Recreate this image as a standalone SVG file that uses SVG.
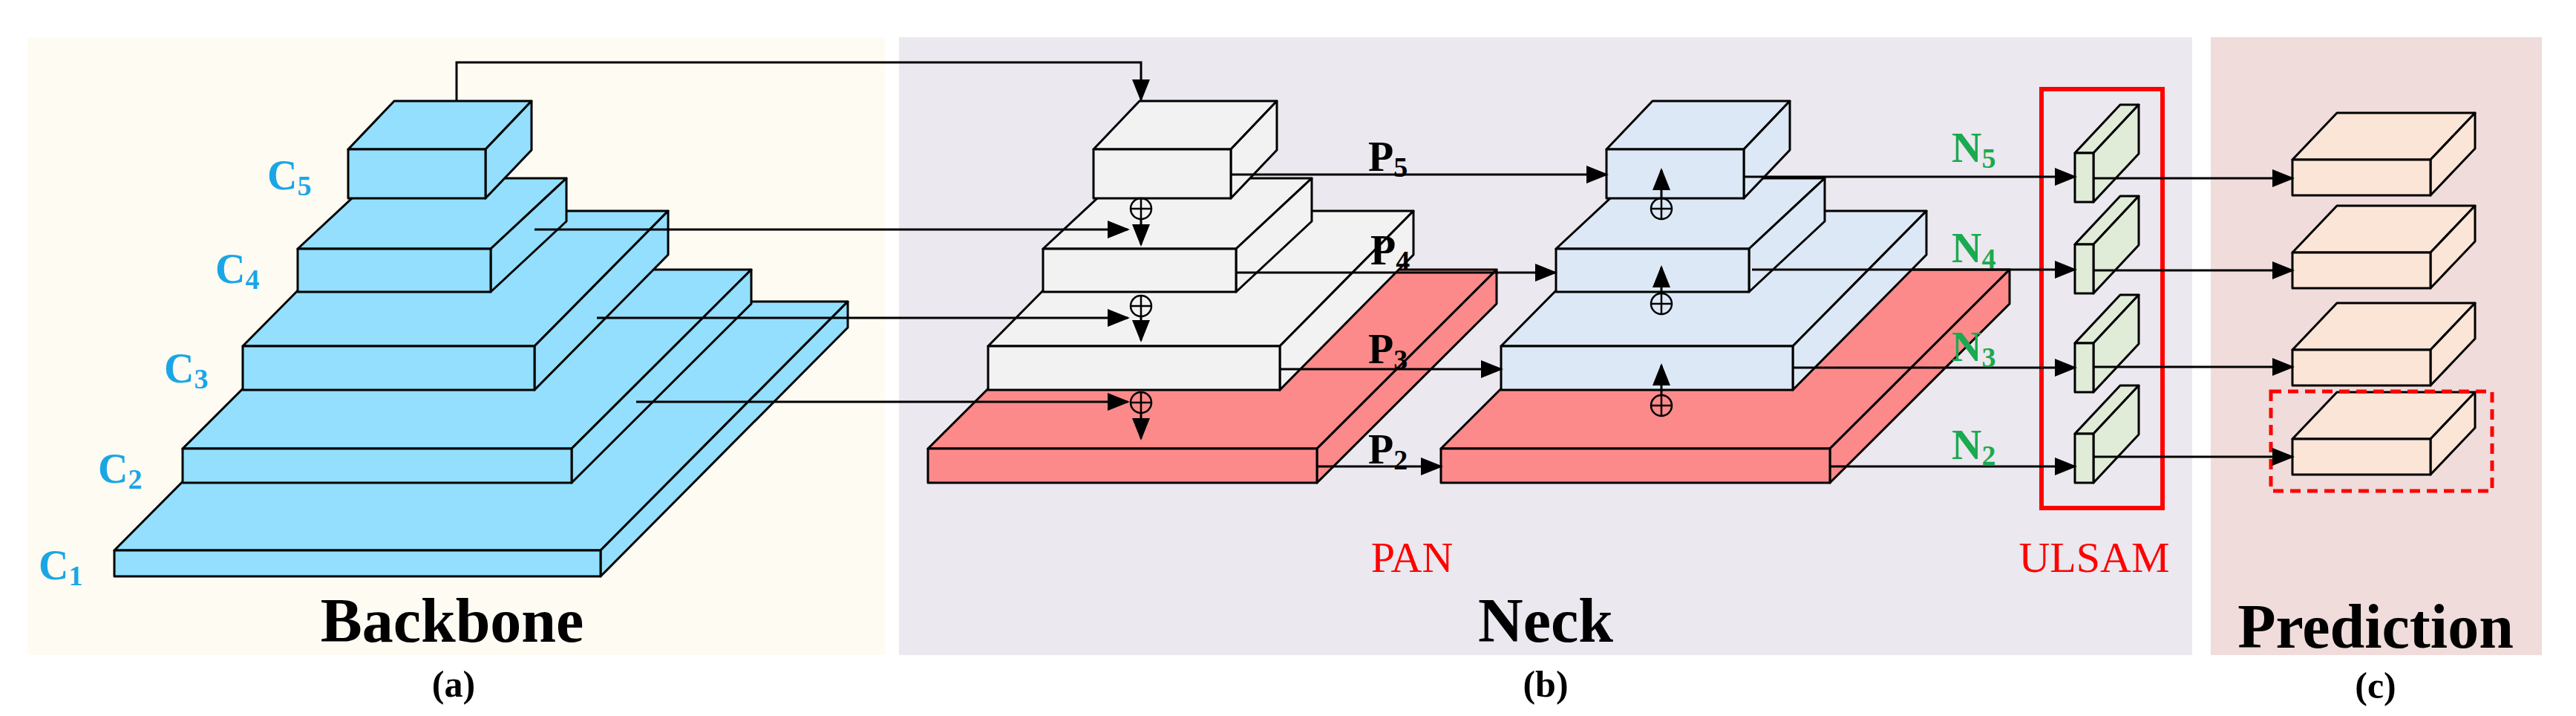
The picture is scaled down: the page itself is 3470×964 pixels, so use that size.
<svg xmlns="http://www.w3.org/2000/svg" width="3470" height="964" viewBox="0 0 3470 964">
<style>
.e{stroke:#000;stroke-width:3;stroke-linejoin:round}
.bb{fill:#93dffd}.wh{fill:#f2f2f2}.rd{fill:#fd8a8a}.bl{fill:#dce8f5}.gr{fill:#e0ecd8}.pr{fill:#fbe5d6}
.ln{stroke:#000;stroke-width:3;fill:none}
.arr{marker-end:url(#ah)}
.cl{font-family:"Liberation Serif",serif;font-weight:bold;font-size:56px;fill:#1aa6e6}
.pl{font-family:"Liberation Serif",serif;font-weight:bold;font-size:56px;fill:#000}
.nl{font-family:"Liberation Serif",serif;font-weight:bold;font-size:56px;fill:#1aaa50}
.t{font-family:"Liberation Serif",serif;font-weight:bold;font-size:84px;fill:#000;text-anchor:middle}
.s{font-family:"Liberation Serif",serif;font-weight:bold;font-size:50px;fill:#000;text-anchor:middle}
.r{font-family:"Liberation Serif",serif;font-size:58px;fill:#f00;text-anchor:middle}
.pc{fill:none;stroke:#000;stroke-width:2.5}
</style>
<defs>
<marker id="ah" markerWidth="10" markerHeight="8" refX="9" refY="4" orient="auto" markerUnits="strokeWidth"><path d="M0,0 L10,4 L0,8 Z" fill="#000"/></marker>
<g id="plus"><circle r="14" class="pc"/><path d="M-14,0H14M0,-14V14" class="pc"/></g>
</defs>
<g id="backgrounds">
<rect x="37" y="50" width="1155" height="832" fill="#fefbf3"/>
<rect x="1211" y="50" width="1742" height="832" fill="#ebe8ef"/>
<rect x="2978" y="50" width="446" height="832" fill="#efdcdb"/>
</g>
<g id="backbone">
<g id="C1" class="bb e"><polygon points="154,741 809,741 1142,406 487,406"/><polygon points="809,741 1142,406 1142,441 809,776"/><rect x="154" y="741" width="655" height="35"/></g>
<g id="C2" class="bb e"><polygon points="246,604 770,604 1012,363 488,363"/><polygon points="770,604 1012,363 1012,409 770,650"/><rect x="246" y="604" width="524" height="46"/></g>
<g id="C3" class="bb e"><polygon points="327,466 720,466 900,284 507,284"/><polygon points="720,466 900,284 900,343 720,525"/><rect x="327" y="466" width="393" height="59"/></g>
<g id="C4" class="bb e"><polygon points="401,335 661,335 763,240 503,240"/><polygon points="661,335 763,240 763,298 661,393"/><rect x="401" y="335" width="260" height="58"/></g>
<g id="C5" class="bb e"><polygon points="469,201 654,201 716,136 531,136"/><polygon points="654,201 716,136 716,202 654,267"/><rect x="469" y="201" width="185" height="66"/></g>
<text class="cl" x="360" y="255">C<tspan font-size="38" dy="8">5</tspan></text>
<text class="cl" x="290" y="381">C<tspan font-size="38" dy="8">4</tspan></text>
<text class="cl" x="221" y="515">C<tspan font-size="38" dy="8">3</tspan></text>
<text class="cl" x="132" y="650">C<tspan font-size="38" dy="8">2</tspan></text>
<text class="cl" x="52" y="780">C<tspan font-size="38" dy="8">1</tspan></text>
</g>
<g id="pan" transform="translate(1004,0)">
<g id="P2box" class="rd e"><polygon points="246,604 770,604 1012,363 488,363"/><polygon points="770,604 1012,363 1012,409 770,650"/><rect x="246" y="604" width="524" height="46"/></g>
<g id="P3box" class="wh e"><polygon points="327,466 720,466 900,284 507,284"/><polygon points="720,466 900,284 900,343 720,525"/><rect x="327" y="466" width="393" height="59"/></g>
<g id="P4box" class="wh e"><polygon points="401,335 661,335 763,240 503,240"/><polygon points="661,335 763,240 763,298 661,393"/><rect x="401" y="335" width="260" height="58"/></g>
<g id="P5box" class="wh e"><polygon points="469,201 654,201 716,136 531,136"/><polygon points="654,201 716,136 716,202 654,267"/><rect x="469" y="201" width="185" height="66"/></g>
</g>
<g id="pan2" transform="translate(1695,0)">
<g id="N2box" class="rd e"><polygon points="246,604 770,604 1012,363 488,363"/><polygon points="770,604 1012,363 1012,409 770,650"/><rect x="246" y="604" width="524" height="46"/></g>
<g id="N3box" class="bl e"><polygon points="327,466 720,466 900,284 507,284"/><polygon points="720,466 900,284 900,343 720,525"/><rect x="327" y="466" width="393" height="59"/></g>
<g id="N4box" class="bl e"><polygon points="401,335 661,335 763,240 503,240"/><polygon points="661,335 763,240 763,298 661,393"/><rect x="401" y="335" width="260" height="58"/></g>
<g id="N5box" class="bl e"><polygon points="469,201 654,201 716,136 531,136"/><polygon points="654,201 716,136 716,202 654,267"/><rect x="469" y="201" width="185" height="66"/></g>
</g>
<g id="ulsam">
<rect x="2750" y="120" width="163" height="564" fill="none" stroke="#f00" stroke-width="6"/>
<g class="gr e"><polygon points="2795,206 2820,206 2881,141 2856,141"/><polygon points="2820,206 2881,141 2881,207 2820,272"/><rect x="2795" y="206" width="25" height="66"/></g>
<g class="gr e"><polygon points="2795,329 2820,329 2881,264 2856,264"/><polygon points="2820,329 2881,264 2881,330 2820,395"/><rect x="2795" y="329" width="25" height="66"/></g>
<g class="gr e"><polygon points="2795,462 2820,462 2881,397 2856,397"/><polygon points="2820,462 2881,397 2881,463 2820,528"/><rect x="2795" y="462" width="25" height="66"/></g>
<g class="gr e"><polygon points="2795,584 2820,584 2881,519 2856,519"/><polygon points="2820,584 2881,519 2881,585 2820,650"/><rect x="2795" y="584" width="25" height="66"/></g>
</g>
<g id="prediction">
<g class="pr e"><polygon points="3088,215 3274,215 3334,152 3148,152"/><polygon points="3274,215 3334,152 3334,200 3274,263"/><rect x="3088" y="215" width="186" height="48"/></g>
<g class="pr e"><polygon points="3088,340 3274,340 3334,277 3148,277"/><polygon points="3274,340 3334,277 3334,325 3274,388"/><rect x="3088" y="340" width="186" height="48"/></g>
<g class="pr e"><polygon points="3088,471 3274,471 3334,408 3148,408"/><polygon points="3274,471 3334,408 3334,456 3274,519"/><rect x="3088" y="471" width="186" height="48"/></g>
<g class="pr e"><polygon points="3088,591 3274,591 3334,528 3148,528"/><polygon points="3274,591 3334,528 3334,576 3274,639"/><rect x="3088" y="591" width="186" height="48"/></g>
<rect x="3059" y="527" width="298" height="134" fill="none" stroke="#f00" stroke-width="5" stroke-dasharray="14,9"/>
</g>
<g id="connectors">
<path class="ln arr" d="M615,136V84H1537V134"/>
<path class="ln arr" d="M720,309H1519"/>
<path class="ln arr" d="M804,428H1519"/>
<path class="ln arr" d="M857,541H1519"/>
<use href="#plus" x="1537" y="281"/><use href="#plus" x="1537" y="412"/><use href="#plus" x="1537" y="542"/>
<path class="ln arr" d="M1537,295V329"/>
<path class="ln arr" d="M1537,426V458"/>
<path class="ln arr" d="M1537,556V590"/>
<path class="ln arr" d="M1657,235H2164"/>
<path class="ln arr" d="M1665,367H2095"/>
<path class="ln arr" d="M1723,497H2022"/>
<path class="ln arr" d="M1774,628H1941"/>
<use href="#plus" x="2238" y="281"/><use href="#plus" x="2238" y="409"/><use href="#plus" x="2238" y="546"/>
<path class="ln arr" d="M2238,267V229"/>
<path class="ln arr" d="M2238,395V360"/>
<path class="ln arr" d="M2238,532V492"/>
<path class="ln arr" d="M2350,238H2795"/>
<path class="ln arr" d="M2360,363H2795"/>
<path class="ln arr" d="M2415,495H2795"/>
<path class="ln arr" d="M2465,628H2795"/>
<path class="ln arr" d="M2820,240H3088"/>
<path class="ln arr" d="M2820,364H3088"/>
<path class="ln arr" d="M2820,494H3088"/>
<path class="ln arr" d="M2820,615H3088"/>
</g>
<g id="labels">
<text class="pl" x="1843" y="230">P<tspan font-size="38" dy="8">5</tspan></text>
<text class="pl" x="1846" y="356">P<tspan font-size="38" dy="8">4</tspan></text>
<text class="pl" x="1843" y="489">P<tspan font-size="38" dy="8">3</tspan></text>
<text class="pl" x="1843" y="624">P<tspan font-size="38" dy="8">2</tspan></text>
<text class="nl" x="2629" y="218">N<tspan font-size="38" dy="8">5</tspan></text>
<text class="nl" x="2629" y="353">N<tspan font-size="38" dy="8">4</tspan></text>
<text class="nl" x="2629" y="486">N<tspan font-size="38" dy="8">3</tspan></text>
<text class="nl" x="2629" y="618">N<tspan font-size="38" dy="8">2</tspan></text>
<text class="r" x="1902" y="770">PAN</text>
<text class="r" x="2821" y="770">ULSAM</text>
<text class="t" x="609" y="864">Backbone</text>
<text class="t" x="2082" y="864">Neck</text>
<text class="t" x="3200" y="872" font-size="80">Prediction</text>
<text class="s" x="611" y="938">(a)</text>
<text class="s" x="2082" y="938">(b)</text>
<text class="s" x="3200" y="940">(c)</text>
</g>
</svg>
